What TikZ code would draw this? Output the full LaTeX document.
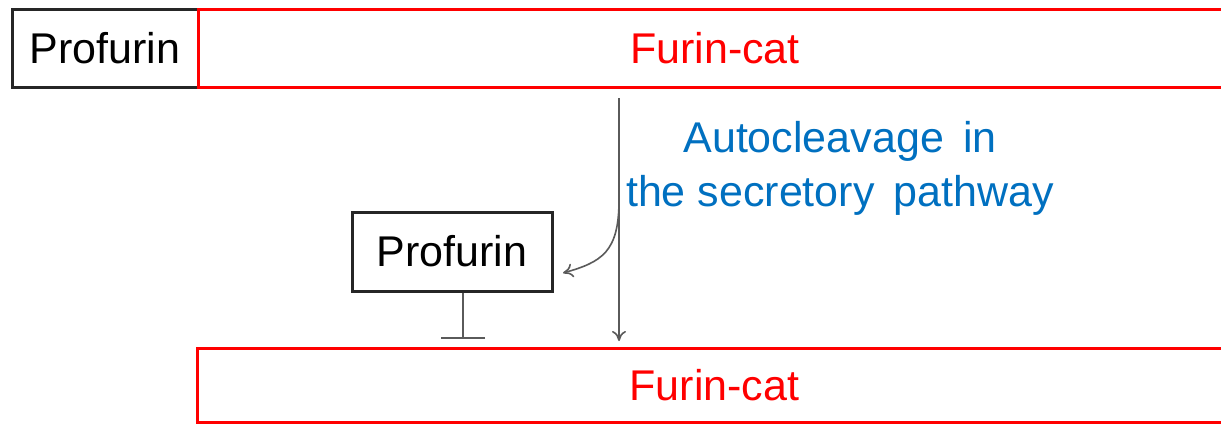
\documentclass[tikz,border=0pt]{standalone}
\usepackage{fontspec}
\setmainfont{Liberation Sans}
\usetikzlibrary{arrows.meta}
\definecolor{boxred}{RGB}{255,0,0}
\definecolor{txtblue}{RGB}{0,112,192}
\definecolor{linegray}{RGB}{90,90,90}
\begin{document}
\begin{tikzpicture}[x=0.5pt,y=-0.5pt,
  lbl/.style={font=\fontsize{21.5}{27}\selectfont},
  blackbox/.style={lbl,draw=black!85,line width=1.5pt,inner sep=0pt,text=black},
  redbox/.style={lbl,draw=boxred,line width=1.5pt,inner sep=0pt,text=boxred},
  conn/.style={draw=linegray,line width=0.8pt},
  ]
\useasboundingbox (0,0) rectangle (1221,424);
\fill[white] (0,0) rectangle (1221,424);
% top row
\node[blackbox,minimum width=93pt,minimum height=39pt] (pro1) at (105,48) {Profurin};
\node[redbox,minimum width=517pt,minimum height=39pt] (fur1) at (715,48) {Furin-cat};
% bottom box
\node[redbox,minimum width=517.5pt,minimum height=37pt] (fur2) at (714.5,385) {\raisebox{-1pt}{Furin-cat}};
% middle profurin
\node[blackbox,minimum width=100pt,minimum height=39.5pt] (pro2) at (452,251.5) {Profurin};
% label
\node[lbl,text=txtblue,align=center] (lab) at (840,168) {Autocleavage\, in\\the secretory\, pathway};
% connectors
\coordinate (vtop) at (619,98);
\coordinate (vbot) at (619,341);
\coordinate (vbr) at (619,200);
\coordinate (cend) at (563,273);
\draw[conn,-{To[length=5pt,width=7pt]}] (vtop) -- (vbot);
\draw[conn,-{To[length=5pt,width=7pt]}] (vbr) .. controls (619,252) and (602,262) .. (cend);
\coordinate (inhtop) at ([xshift=5.5pt]pro2.south);
\coordinate (inhbot) at (463,339);
\draw[conn,-{Bar[width=22pt,line width=0.8pt]}] (inhtop) -- (inhbot);
\end{tikzpicture}
\end{document}
